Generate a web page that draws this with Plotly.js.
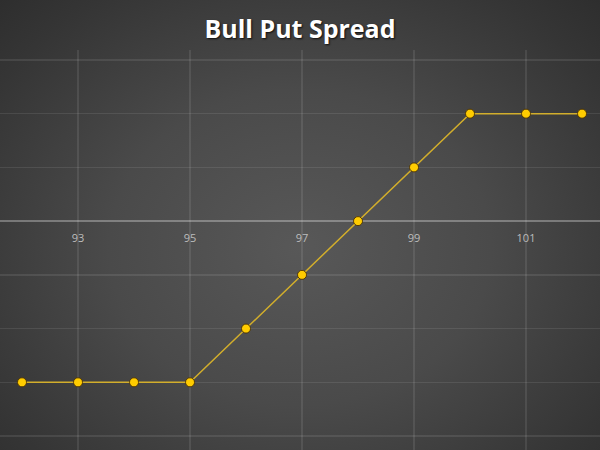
<!DOCTYPE html>
<html>
<head>
<meta charset="utf-8">
<script src="https://cdn.plot.ly/plotly-3.0.1.min.js"></script>
<style>
  html, body { margin: 0; padding: 0; }
  #chart {
    width: 600px; height: 450px;
    background: radial-gradient(ellipse at 50% 55%, #585858 0%, #4a4a4a 45%, #353535 85%, #2e2e2e 100%);
  }
</style>
</head>
<body>
<div id="chart"></div>
<script>
// underlying price at expiry
const prices = [92, 93, 94, 95, 96, 97, 98, 99, 100, 101, 102];
// profit / loss of the spread
const payoff = [-3, -3, -3, -3, -2, -1, 0, 1, 2, 2, 2];

const trace = {
    x: prices,
    y: payoff,
    mode: 'lines+markers',
    line: { color: '#d2ae2c', width: 1.5 },
    marker: {
        color: '#ffcc00',
        size: 9,
        line: { color: 'rgba(70,45,0,0.85)', width: 1 },
    },
    hoverinfo: 'x+y',
};

const layout = {
    width: 600,
    height: 450,
    margin: { l: 0, r: 0, t: 50, b: 0 },
    paper_bgcolor: 'rgba(0,0,0,0)',
    plot_bgcolor: 'rgba(0,0,0,0)',
    showlegend: false,
    title: {
        text: 'Bull Put Spread',
        x: 0.5,
        xanchor: 'center',
        yref: 'container',
        y: 1 - 29 / 450,
        yanchor: 'middle',
        font: {
            family: 'Open Sans, sans-serif',
            size: 25,
            color: '#ffffff',
            weight: 'bold',
            shadow: '1px 1px 2px rgba(0,0,0,0.8)',
        },
    },
    xaxis: {
        range: [91.607, 102.321],
        tick0: 93,
        dtick: 2,
        showgrid: true,
        gridcolor: 'rgba(255,255,255,0.09)',
        gridwidth: 1.5,
        zeroline: false,
        showline: false,
        ticks: '',
        anchor: 'free',
        position: 0.5725,
        side: 'bottom',
        ticklabelstandoff: 9,
        tickfont: { family: 'Open Sans, sans-serif', size: 11, color: '#bdbdbd' },
        fixedrange: true,
    },
    yaxis: {
        range: [-4.26, 3.185],
        dtick: 1,
        showgrid: true,
        gridcolor: 'rgba(255,255,255,0.09)',
        gridwidth: 1.5,
        zeroline: true,
        zerolinecolor: 'rgba(255,255,255,0.3)',
        zerolinewidth: 1.5,
        showticklabels: false,
        ticks: '',
        fixedrange: true,
    },
};

Plotly.newPlot('chart', [trace], layout, { displayModeBar: false, staticPlot: true });
</script>
</body>
</html>
